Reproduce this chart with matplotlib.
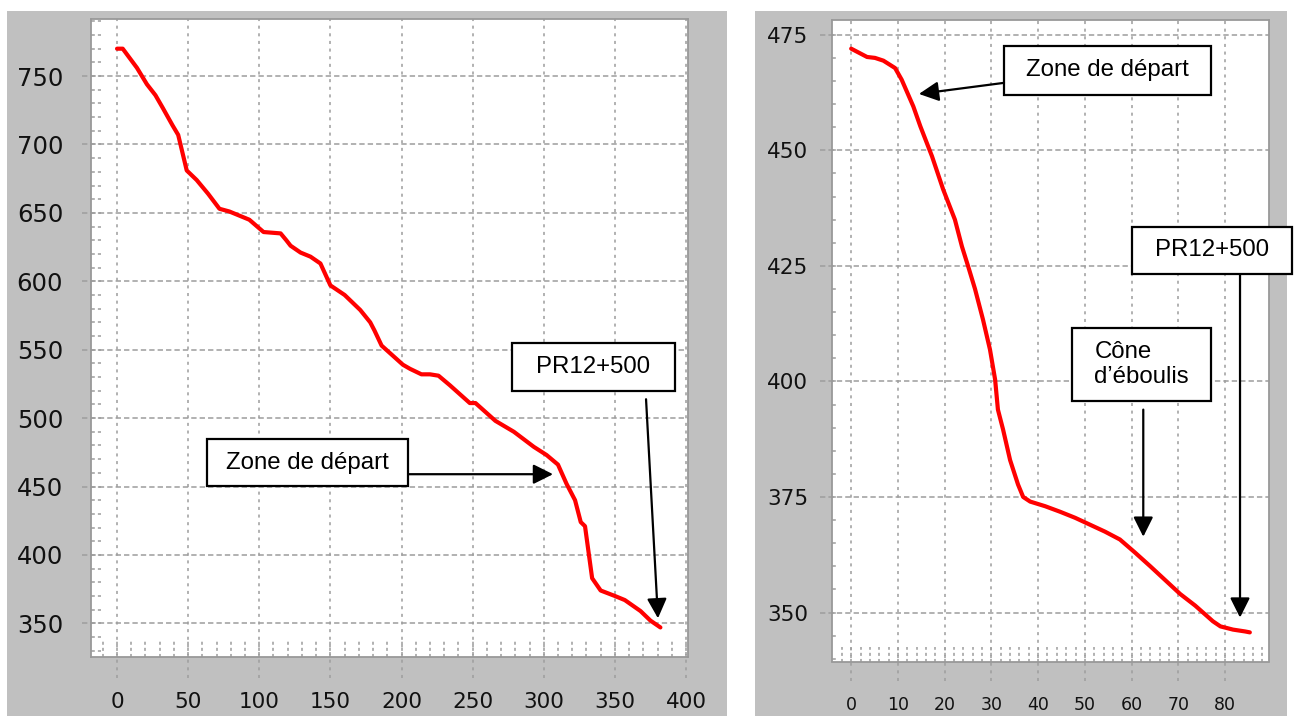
import numpy as np
import matplotlib
matplotlib.use("Agg")
import matplotlib.pyplot as plt
from matplotlib.patches import Rectangle

# ---------------- data ----------------
left_x = [0, 4, 9, 14, 21, 27, 32, 39, 43, 46, 49, 56, 64, 72, 79, 86, 93, 103, 115, 119,
          122, 129, 136, 143, 150, 160, 171, 178, 181, 186, 201, 206, 214, 220, 226, 234,
          248, 252, 266, 279, 293, 302, 310, 316, 322, 326, 329, 334, 340, 350, 357, 368,
          375, 382]
left_y = [770, 770, 763, 756, 744, 736, 727, 714, 707, 694, 681, 674, 664, 653, 651, 648, 645,
          636, 635, 630, 626, 621, 618, 613, 597, 590, 579, 570, 564, 553, 539, 536, 532, 532,
          531, 524, 511, 511, 498, 490, 479, 473, 466, 452, 440, 424, 421, 383, 374, 370, 367,
          359, 352, 347]

right_x = [0, 3.4, 5.1, 6.9, 9.4, 10.8, 13.3, 14.8, 17.3, 19.7, 22.2, 23.7, 25, 26.5, 28.2,
           29.7, 30.8, 31.4, 32.5, 34, 35.7, 36.8, 38.3, 41.5, 44.7, 47.9, 51.1, 54.3, 57.5,
           60.7, 64, 67.2, 70.4, 73.6, 77.4, 79, 81.7, 84.3, 85.3]
right_y = [472, 470.2, 470, 469.4, 467.8, 465.3, 459.5, 455.2, 448.7, 441.5, 435, 429.2, 425,
           420, 413.4, 406.9, 400.4, 393.9, 389.6, 383, 377.7, 375, 374, 373, 371.8, 370.5,
           369, 367.5, 365.8, 363, 360, 357, 354, 351.5, 348.1, 347, 346.3, 345.9, 345.7]

left_xticks = [0, 50, 100, 150, 200, 250, 300, 350, 400]
left_yticks = [350, 400, 450, 500, 550, 600, 650, 700, 750]
right_xticks = [0, 10, 20, 30, 40, 50, 60, 70, 80]
right_yticks = [350, 375, 400, 425, 450, 475]

left_labels = ["Zone de départ", "PR12+500"]
right_labels = ["Zone de départ", "PR12+500", "Cône\nd’éboulis"]

# ---------------- layout ----------------
W, H = 1294, 716
fig = plt.figure(figsize=(W / 100, H / 100), dpi=100)
fig.patch.set_facecolor("white")


def px_rect(x0, y0, x1, y1):
    return [x0 / W, 1 - y1 / H, (x1 - x0) / W, (y1 - y0) / H]


for (x0, y0, x1, y1) in [(7, 11, 727, 716), (755, 11, 1287, 716)]:
    fig.patches.append(Rectangle((x0 / W, 1 - y1 / H), (x1 - x0) / W, (y1 - y0) / H,
                                 transform=fig.transFigure, facecolor="#c0c0c0",
                                 edgecolor="none", zorder=-5))

axL = fig.add_axes(px_rect(91, 19, 688, 657))
axR = fig.add_axes(px_rect(832, 20, 1269, 661.5))

GC = "#9d9d9d"


def style(ax, xlim, ylim, xticks, yticks, xminor, yminor, ext_down, ext_left,
          xfs, yfs, xpad, ypad, xmin_len, ymin_len):
    ax.set_xlim(xlim)
    ax.set_ylim(ylim)
    ax.set_facecolor("white")
    for s in ax.spines.values():
        s.set_color("#999999")
        s.set_linewidth(1.3)
    ax.set_xticks(xticks)
    ax.set_yticks(yticks)
    ax.tick_params(length=0, colors="#111111")
    ax.tick_params(axis="x", labelsize=xfs, pad=xpad)
    ax.tick_params(axis="y", labelsize=yfs, pad=ypad)
    tx = ax.get_xaxis_transform()
    ty = ax.get_yaxis_transform()
    for x in xticks:
        ax.plot([x, x], [-ext_down, 1], transform=tx, color=GC, lw=1.1,
                ls=(0, (2, 3)), clip_on=False, zorder=1)
    for y in yticks:
        ax.plot([-ext_left, 1], [y, y], transform=ty, color=GC, lw=1.1,
                ls=(0, (3.5, 2)), clip_on=False, zorder=1)
    for x in xminor:
        if xlim[0] < x < xlim[1]:
            ax.plot([x, x], [0, xmin_len], transform=tx, color=GC, lw=1.1,
                    ls=(0, (2, 2)), zorder=1)
    for y in yminor:
        if ylim[0] < y < ylim[1]:
            ax.plot([0, ymin_len], [y, y], transform=ty, color=GC, lw=1.1,
                    ls=(0, (2.5, 2)), zorder=1)


style(axL, (-18.3, 401.4), (325.4, 791.7), left_xticks, left_yticks,
      np.arange(-10, 410, 10), np.arange(330, 800, 10), 0.033, 0.015,
      15.5, 17.5, 25, 20, 0.026, 0.016)
style(axR, (-4.1, 89.4), (339.4, 478.2), right_xticks, right_yticks,
      np.arange(-2, 90, 2), np.arange(340, 480, 5), 0.03, 0.027,
      12.5, 15.5, 25, 17, 0.022, 0.012)

axL.plot(left_x, left_y, color="#ff0000", lw=3.0, solid_joinstyle="round",
         solid_capstyle="round", zorder=3)
axR.plot(right_x, right_y, color="#ff0000", lw=3.0, solid_joinstyle="round",
         solid_capstyle="round", zorder=3)

TFONT = dict(family=["Liberation Sans", "DejaVu Sans"], size=17.3, color="black")


def box(ax, x0, y0, x1, y1, text, ls=1.15):
    ax.add_patch(Rectangle((x0, y0), x1 - x0, y1 - y0, facecolor="white",
                           edgecolor="black", lw=1.6, clip_on=False, zorder=5))
    ax.text((x0 + x1) / 2, (y0 + y1) / 2, text, ha="center", va="center",
            multialignment="left", linespacing=ls, zorder=6, clip_on=False, **TFONT)


def arrow(ax, start, tip):
    ax.annotate("", xy=tip, xytext=start, annotation_clip=False,
                arrowprops=dict(arrowstyle="-|>,head_length=0.4,head_width=0.2",
                                color="black", lw=1.6, mutation_scale=30,
                                shrinkA=0, shrinkB=0), zorder=6)


# left annotations
box(axL, 63.3, 450.2, 204.9, 484.5, left_labels[0])
arrow(axL, (204.9, 459.0), (306.5, 459.0))
box(axL, 277.7, 519.7, 392.3, 554.8, left_labels[1])
arrow(axL, (371.9, 513.8), (380.3, 353.7))

# right annotations
box(axR, 32.6, 462.0, 76.9, 472.6, right_labels[0])
arrow(axR, (32.7, 464.6), (14.5, 462.2))
box(axR, 60.1, 423.3, 94.3, 433.5, right_labels[1])
arrow(axR, (83.2, 423.1), (83.2, 348.9))
box(axR, 47.3, 395.8, 77.0, 411.6, right_labels[2])
arrow(axR, (62.5, 393.9), (62.5, 366.4))

fig.savefig("out.png", dpi=100, facecolor="white")
